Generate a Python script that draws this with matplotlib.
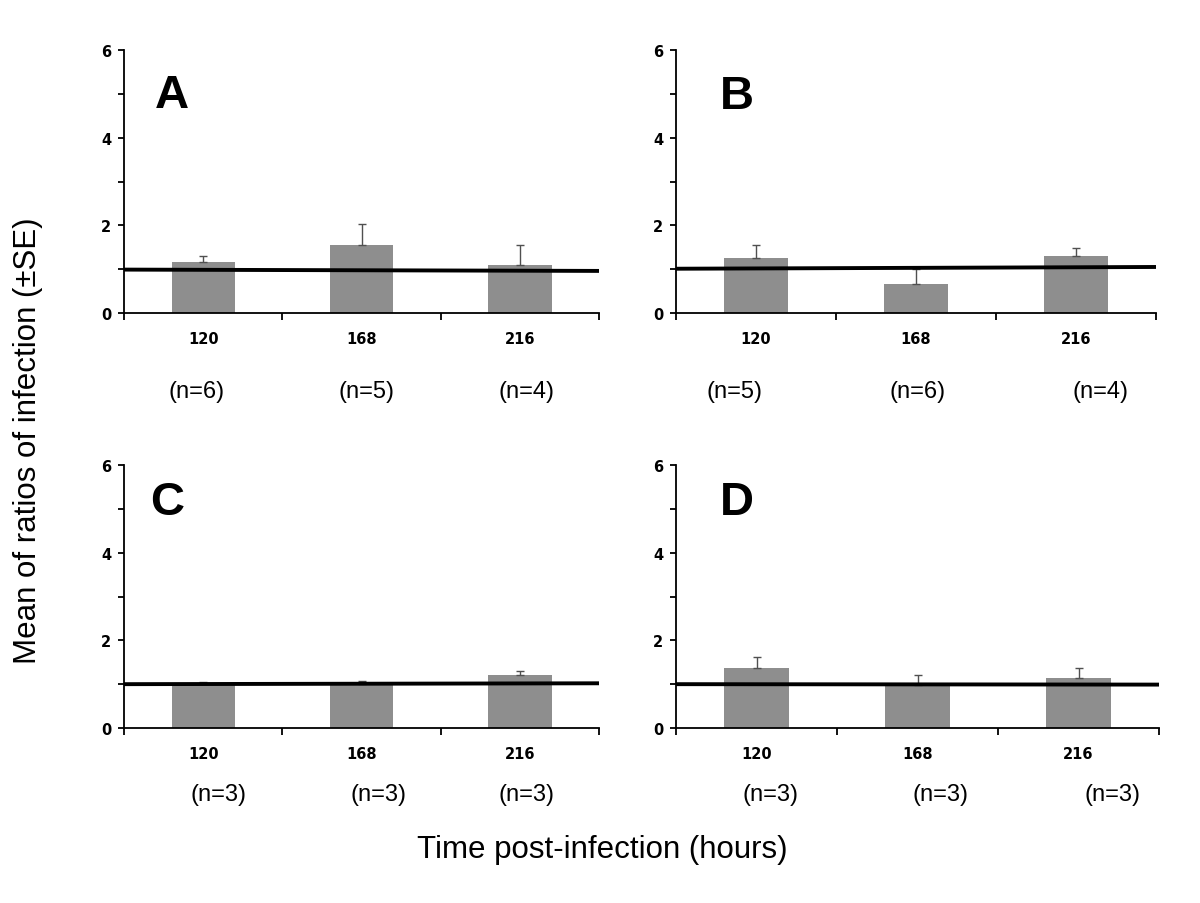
"""
Mean ratios of infection at three time points, four panels (A-D).
"""

import numpy as np
import matplotlib
matplotlib.use("Agg")
import matplotlib.pyplot as plt

plt.rcParams['font.family'] = ['Liberation Sans', 'DejaVu Sans']

# --- data ---
hours = ['120', '168', '216']
panel_names = ['A', 'B', 'C', 'D']

means_a = [1.17, 1.55, 1.10]
se_a = [0.12, 0.47, 0.44]
ref_a = [0.99, 0.96]
n_a = ['(n=6)', '(n=5)', '(n=4)']

means_b = [1.26, 0.67, 1.29]
se_b = [0.29, 0.33, 0.19]
ref_b = [1.01, 1.05]
n_b = ['(n=5)', '(n=6)', '(n=4)']

means_c = [1.00, 1.00, 1.20]
se_c = [0.05, 0.08, 0.09]
ref_c = [1.00, 1.02]
n_c = ['(n=3)', '(n=3)', '(n=3)']

means_d = [1.37, 0.99, 1.13]
se_d = [0.24, 0.21, 0.24]
ref_d = [1.00, 0.99]
n_d = ['(n=3)', '(n=3)', '(n=3)']

W, H = 1200, 904
fig = plt.figure(figsize=(W / 100, H / 100), dpi=100)

# axes boxes in pixels: left, right, top, bottom
boxes = [(124, 599, 51, 314), (676, 1156, 51, 314),
         (124, 599, 466, 729), (676, 1159, 466, 729)]
letter_pos = [(0.101, 0.829), (0.126, 0.826), (0.091, 0.859), (0.126, 0.859)]
# pixel positions of the "(n=..)" labels
n_xpix = [[197, 367, 527], [735, 918, 1100], [218, 378, 527], [771, 941, 1112]]
n_ypix = [392, 392, 795, 795]

panels = [(means_a, se_a, ref_a, n_a), (means_b, se_b, ref_b, n_b),
          (means_c, se_c, ref_c, n_c), (means_d, se_d, ref_d, n_d)]

x = np.arange(len(hours))
for i, (means, se, ref, nlab) in enumerate(panels):
    l, r, t, b = boxes[i]
    ax = fig.add_axes([l / W, 1 - b / H, (r - l) / W, (b - t) / H])

    ax.bar(x, means, width=0.4, color='#8e8e8e', zorder=2)
    ax.errorbar(x, means, yerr=[np.zeros(len(se)), se], fmt='none',
                ecolor='#505050', elinewidth=1.0, capsize=3, capthick=1.0, zorder=3)
    # ratio = 1 reference line
    ax.plot([-0.5, 2.5], ref, color='black', lw=2.8, zorder=4, solid_capstyle='butt')

    ax.set_xlim(-0.5, 2.5)
    ax.set_ylim(0, 6)
    ax.set_yticks([0, 2, 4, 6])
    ax.set_yticks([1, 3, 5], minor=True)
    ax.set_xticks(x)
    ax.set_xticklabels(hours)
    ax.set_xticks([-0.5, 0.5, 1.5, 2.5], minor=True)

    for side in ['top', 'right']:
        ax.spines[side].set_visible(False)
    for side in ['left', 'bottom']:
        ax.spines[side].set_linewidth(1.3)
        ax.spines[side].set_color('black')

    ax.tick_params(axis='x', which='major', length=0, pad=13)
    ax.tick_params(axis='x', which='minor', length=5, width=1.3, direction='out')
    ax.tick_params(axis='y', which='both', length=4, width=1.3, direction='out', pad=5)
    for lab in ax.get_xticklabels() + ax.get_yticklabels():
        lab.set_family(['DejaVu Sans'])
        lab.set_fontweight('bold')
        lab.set_fontsize(10.5)

    ax.text(letter_pos[i][0], letter_pos[i][1], panel_names[i], transform=ax.transAxes,
            ha='center', va='center', fontsize=34, fontweight='bold')

    for xp, lab in zip(n_xpix[i], nlab):
        fig.text(xp / W, 1 - n_ypix[i] / H, lab, ha='center', va='center', fontsize=17)

fig.text(602 / W, 1 - 850 / H, 'Time post-infection (hours)', ha='center', va='center',
         fontsize=22.5)
fig.text(28 / W, 1 - 441 / H, 'Mean of ratios of infection (\u00b1SE)', ha='center',
         va='center', rotation=90, fontsize=22.5)

fig.savefig('out.png', dpi=100)
